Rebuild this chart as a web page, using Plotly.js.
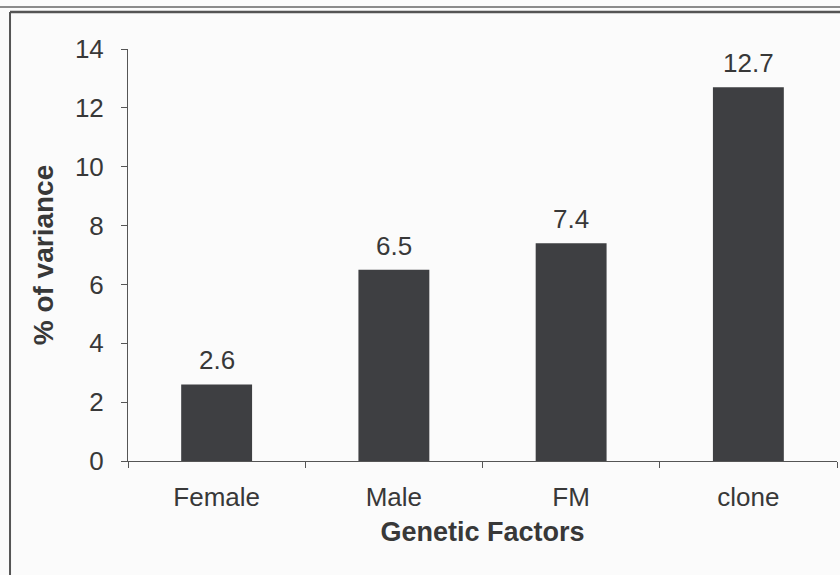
<!DOCTYPE html>
<html>
<head>
<meta charset="utf-8">
<script src="https://cdn.plot.ly/plotly-3.0.1.min.js"></script>
<style>
html,body{margin:0;padding:0;background:#fbfbfb;}
#chart{width:840px;height:575px;}
</style>
</head>
<body>
<div id="chart"></div>
<script>
const categories = ["Female", "Male", "FM", "clone"];
const values = [2.6, 6.5, 7.4, 12.7];
const valueLabels = ["2.6", "6.5", "7.4", "12.7"];
const yTicks = [0, 2, 4, 6, 8, 10, 12, 14];

const textColor = "#383838";
const barColor = "#3e3f42";
const fontFam = "Liberation Sans, Arial, sans-serif";

const trace = {
  type: "bar",
  x: categories,
  y: values,
  marker: {color: barColor, line: {width: 0}},
  width: 0.4,
  hoverinfo: "skip"
};

const annotations = categories.map((c, i) => ({
  x: c, y: values[i], xref: "x", yref: "y",
  text: valueLabels[i], showarrow: false,
  yanchor: "bottom", yshift: 7,
  font: {family: fontFam, size: 26, color: textColor}
}));

const layout = {
  width: 840, height: 575,
  margin: {l: 128, r: 3, t: 49, b: 114},
  paper_bgcolor: "#fbfbfb",
  plot_bgcolor: "#fbfbfb",
  showlegend: false,
  font: {family: fontFam, color: textColor},
  xaxis: {
    type: "category",
    range: [-0.5, 3.5],
    showline: true, linecolor: "#555", linewidth: 1,
    ticks: "outside", tickson: "boundaries", ticklen: 6, tickcolor: "#555",
    showgrid: false, zeroline: false,
    tickfont: {family: fontFam, size: 26, color: textColor},
    ticklabelstandoff: 13,
    title: {text: "<b>Genetic Factors</b>", font: {family: fontFam, size: 27, color: textColor}, standoff: 10}
  },
  yaxis: {
    range: [0, 14],
    tickvals: yTicks,
    showline: true, linecolor: "#555", linewidth: 1,
    ticks: "outside", ticklen: 6, tickcolor: "#555",
    showgrid: false, zeroline: false,
    tickfont: {family: fontFam, size: 26, color: textColor},
    ticklabelstandoff: 12,
    title: {text: "<b>% of variance</b>", font: {family: fontFam, size: 28, color: textColor}, standoff: 13}
  },
  annotations: annotations,
  shapes: [
    {type: "line", xref: "paper", yref: "paper", x0: -0.185, x1: 1.01, y0: (461 - 7) / 412, y1: (461 - 7) / 412, line: {color: "#666", width: 1.5}},
    {type: "line", xref: "paper", yref: "paper", x0: -0.1664, x1: 1.01, y0: (461 - 12) / 412, y1: (461 - 12) / 412, line: {color: "#555", width: 2.5}},
    {type: "line", xref: "paper", yref: "paper", x0: -0.1664, x1: -0.1664, y0: (461 - 12) / 412, y1: -0.3, line: {color: "#555", width: 2}}
  ]
};

Plotly.newPlot("chart", [trace], layout, {displayModeBar: false, staticPlot: true});
</script>
</body>
</html>
